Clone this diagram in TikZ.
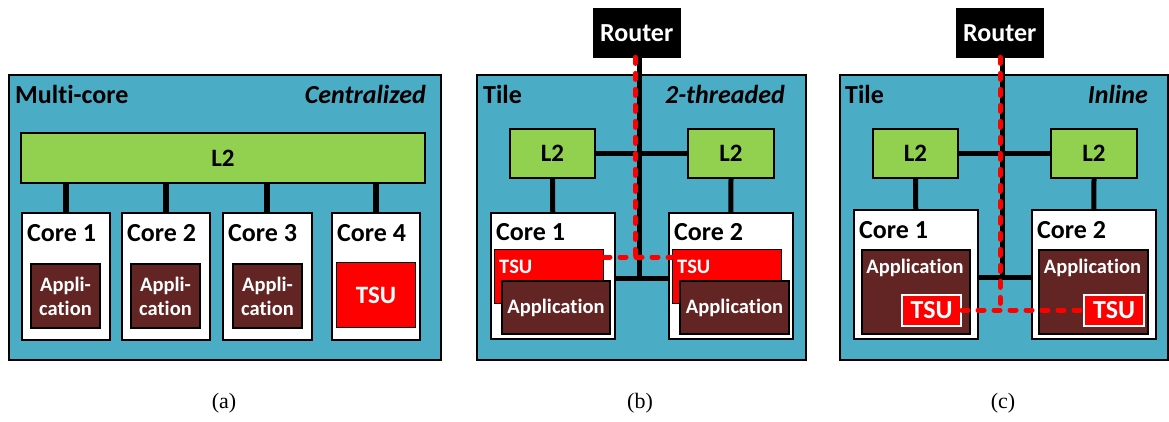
\documentclass[tikz,border=0pt]{standalone}
\usepackage{fontspec}
\setmainfont{Carlito}[Ligatures=NoCommon]
\newfontfamily\capfont{Liberation Serif}
\usetikzlibrary{calc}
\definecolor{tealbg}{HTML}{4BACC6}
\definecolor{l2green}{HTML}{92D050}
\definecolor{appbrown}{HTML}{632523}
\definecolor{tsured}{HTML}{FF0000}
\newcommand\rbox[6]{\node[#1,anchor=north west,minimum width={#5-#3},minimum height={#6-#4},inner sep=0pt] (#2) at (#3,#4)}
\tikzset{
  panel/.style={draw=black,line width=2pt,fill=tealbg},
  l2box/.style={draw=black,line width=2pt,fill=l2green,font=\fontsize{25}{28}\selectfont\bfseries},
  corebox/.style={draw=black,line width=1.5pt,fill=white},
  appbox/.style={draw=black,line width=2pt,fill=appbrown,text=white,font=\fontsize{20.5}{24}\selectfont\bfseries,align=center},
  tsubox/.style={draw=black,line width=1pt,fill=tsured,text=white,font=\fontsize{25}{28}\selectfont\bfseries},
  tsuwhite/.style={draw=white,line width=2pt,fill=tsured,text=white,font=\fontsize{26}{30}\selectfont\bfseries},
  routerbox/.style={draw=black,fill=black,text=white,font=\fontsize{26}{30}\selectfont\bfseries},
  lbl/.style={inner sep=0pt,font=\fontsize{26}{30}\selectfont\bfseries},
  ilbl/.style={inner sep=0pt,font=\fontsize{26}{30}\selectfont\bfseries\itshape},
  small/.style={inner sep=0pt,text=white,font=\fontsize{20.5}{24}\selectfont\bfseries},
  bus/.style={line width=5pt,black},
  msg/.style={line width=5pt,tsured,dash pattern=on 6pt off 10pt,line cap=round},
  captxt/.style={inner sep=0pt,font=\fontsize{22}{26}\selectfont\capfont}
}
\begin{document}
\begin{tikzpicture}[x=1pt,y=-1pt]
\useasboundingbox (0,0) rectangle (1169,421);
% ---------------- (a) ----------------
\rbox{panel}{pa}{8}{74}{440}{359} {};
\node[lbl,anchor=base west] (ta) at (15,103) {Multi-core};
\node[ilbl,anchor=base east] (ia) at (426,103) {Centralized};
\rbox{corebox}{ca1}{21}{212}{109}{339} {};
\rbox{corebox}{ca2}{121}{212}{209}{339} {};
\rbox{corebox}{ca3}{222}{212}{311}{339} {};
\rbox{corebox}{ca4}{331}{212}{419}{339} {};
\rbox{l2box}{la}{20}{132}{424}{182} {L2};
\foreach \c in {ca1,ca2,ca3,ca4}{\draw[line width=6pt] (\c.north |- la.south) -- (\c.north);}
\node[lbl,anchor=base west] (ka1) at ($(ca1.north west)+(6,29)$) {Core 1};
\node[lbl,anchor=base west] (ka2) at ($(ca2.north west)+(6,29)$) {Core 2};
\node[lbl,anchor=base west] (ka3) at ($(ca3.north west)+(6,29)$) {Core 3};
\node[lbl,anchor=base west] (ka4) at ($(ca4.north west)+(6,29)$) {Core 4};
\rbox{appbox}{aa1}{30}{263}{99}{327} {Appli-\\cation};
\rbox{appbox}{aa2}{130}{263}{199}{327} {Appli-\\cation};
\rbox{appbox}{aa3}{232}{263}{301}{327} {Appli-\\cation};
\rbox{tsubox}{sa4}{336}{262}{415}{327} {TSU};
\node[captxt] (capa) at (224,403) {(a)};
% ---------------- (b) ----------------
\rbox{panel}{pb}{476}{74}{805}{359} {};
\node[lbl,anchor=base west] (tb) at (483,103) {Tile};
\node[ilbl,anchor=base east] (ib) at (785,103) {2-threaded};
\rbox{routerbox}{rb}{593}{8}{680}{57} {Router};
\coordinate (jb) at (639,278);
\coordinate (mb) at (635,257);
\rbox{l2box}{lb1}{509}{128}{594}{177} {L2};
\rbox{l2box}{lb2}{687}{128}{773}{177} {L2};
\rbox{corebox}{cb1}{490}{212}{614}{338} {};
\rbox{corebox}{cb2}{668}{212}{792}{338} {};
\draw[bus] (lb1.east) -- (lb2.west);
\draw[bus] (rb.south -| jb) -- (jb);
\draw[bus] (cb1.east |- jb) -- (cb2.west |- jb);
\draw[bus] (lb1.south) -- (cb1.north);
\draw[bus] (lb2.south) -- (cb2.north);
\node[lbl,anchor=base west] (kb1) at ($(cb1.north west)+(6,28)$) {Core 1};
\node[lbl,anchor=base west] (kb2) at ($(cb2.north west)+(6,28)$) {Core 2};
\rbox{tsubox}{sb1}{494}{249}{603}{303} {};
\node[small,anchor=base west] (xb1) at (499,273) {TSU};
\rbox{appbox}{ab1}{501}{280}{609}{333} {Application};
\rbox{tsubox}{sb2}{672}{249}{781}{303} {};
\node[small,anchor=base west] (xb2) at (677,273) {TSU};
\rbox{appbox}{ab2}{679}{280}{788}{333} {Application};
\draw[msg] (rb.south -| mb) -- (mb);
\draw[msg] (sb1.east |- mb) -- (sb2.west |- mb);
\node[captxt] (capb) at (640,403) {(b)};
% ---------------- (c) ----------------
\rbox{panel}{pc}{839}{74}{1167}{359} {};
\node[lbl,anchor=base west] (tc) at (845,103) {Tile};
\node[ilbl,anchor=base east] (ic) at (1148,103) {Inline};
\rbox{routerbox}{rc}{956}{8}{1043}{57} {Router};
\coordinate (jc) at (1002,277);
\rbox{l2box}{lc1}{872}{128}{957}{177} {L2};
\rbox{l2box}{lc2}{1050}{128}{1136}{177} {L2};
\rbox{corebox}{cc1}{853}{209}{977}{338} {};
\rbox{corebox}{cc2}{1031}{209}{1155}{338} {};
\draw[bus] (lc1.east) -- (lc2.west);
\draw[bus] (rc.south -| jc) -- (jc);
\draw[bus] (cc1.east |- jc) -- (cc2.west |- jc);
\draw[bus] (lc1.south) -- (cc1.north);
\draw[bus] (lc2.south) -- (cc2.north);
\node[lbl,anchor=base west] (kc1) at ($(cc1.north west)+(6,29)$) {Core 1};
\node[lbl,anchor=base west] (kc2) at ($(cc2.north west)+(6,29)$) {Core 2};
\rbox{appbox}{ac1}{861}{249}{969}{333} {};
\node[small,anchor=base] (yc1) at (915,273) {Application};
\rbox{appbox}{ac2}{1038}{249}{1147}{333} {};
\node[small,anchor=base] (yc2) at (1092.5,273) {Application};
\rbox{tsuwhite}{sc1}{901}{294}{960}{325} {TSU};
\rbox{tsuwhite}{sc2}{1083}{294}{1143}{325} {TSU};
\coordinate (mc) at (1000,310);
\draw[msg] (rc.south -| mc) -- (mc);
\draw[msg] (sc1.east |- mc) -- (sc2.west |- mc);
\node[captxt] (capc) at (1003,403) {(c)};
\end{tikzpicture}
\end{document}
